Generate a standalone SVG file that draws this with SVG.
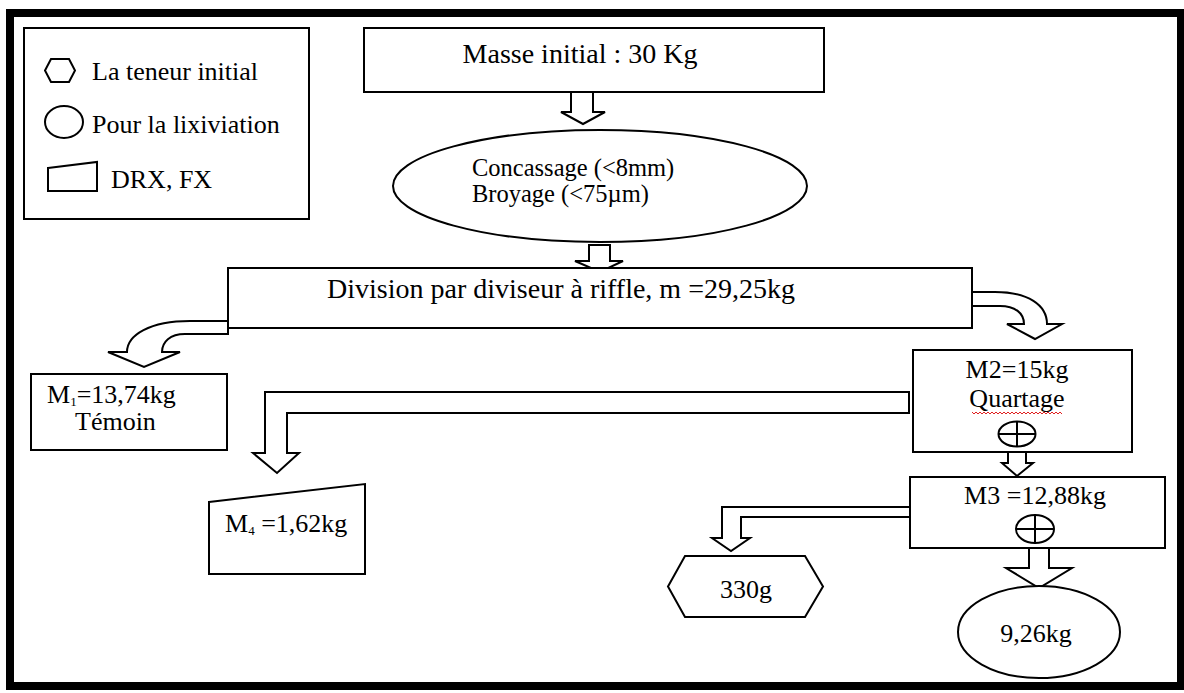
<svg xmlns="http://www.w3.org/2000/svg" width="1184" height="693" viewBox="0 0 1184 693">
<style>
.s{fill:#fff;stroke:#000;stroke-width:2}
.a{fill:#fff;stroke:#000;stroke-width:2;stroke-linejoin:miter}
.t{font-family:"Liberation Serif","Times New Roman",serif;font-size:26px;fill:#000}
.big{font-size:28px}
.sm{font-size:24.5px}
.m{text-anchor:middle}
.l{fill:none;stroke:#000;stroke-width:2}
</style>
<rect x="0" y="0" width="1184" height="693" fill="#fff"/>
<rect id="frame" x="10" y="13" width="1171" height="673" fill="none" stroke="#000" stroke-width="8"/>

<g id="legend">
  <rect class="s" x="24" y="28" width="285" height="191"/>
  <polygon class="s" points="45,70.5 51,59 69,59 75,70.5 69,82 51,82"/>
  <text class="t" x="92" y="80">La teneur initial</text>
  <ellipse class="s" cx="64" cy="122" rx="19" ry="16"/>
  <text class="t" x="92" y="133">Pour la lixiviation</text>
  <polygon class="s" points="48,168 97,162 97,191 48,191"/>
  <text class="t" x="111" y="188">DRX, FX</text>
</g>

<g id="connectors">
  <polygon class="a" points="571,92 593,92 593,112 605,112 583,124 561,112 571,112"/>
  <polygon class="a" points="589,245 610,245 610,261 623,261 600,272 575,261 589,261"/>
  <path class="a" d="M228,321 L190,321 C150,321 127,335 127,352 L108,352 L144,367 L180,352 L162,352 C162,342 170,334 185,334 L228,334 Z"/>
  <path class="a" d="M972,292 L995,292 C1028,292 1047,305 1047,324 L1062,324 L1035,339 L1007,324 L1024,324 C1024,313 1015,306 1000,306 L972,306 Z"/>
  <polygon class="a" points="909,392 265,392 265,453 253,453 277,473 299,453 287,453 287,413 909,413"/>
  <polygon class="a" points="1008,452 1026,452 1026,463 1033,463 1017,476 1002,463 1008,463"/>
  <polygon class="a" points="910,507 722,507 722,538 712,538 731,551 750,538 741,538 741,517 910,517"/>
  <polygon class="a" points="1029,548 1049,548 1049,568 1072,568 1039,588 1006,568 1029,568"/>
</g>

<g id="n-masse">
  <rect class="s" x="364" y="28" width="460" height="64"/>
  <text class="t big m" x="580" y="63">Masse initial : 30 Kg</text>
</g>

<g id="n-concassage">
  <ellipse class="s" cx="600" cy="186" rx="207" ry="56"/>
  <text class="t sm" x="472" y="176">Concassage (&lt;8mm)</text>
  <text class="t sm" x="472" y="202">Broyage (&lt;75µm)</text>
</g>

<g id="n-division">
  <rect class="s" x="228" y="268" width="744" height="60"/>
  <text class="t big m" x="561" y="298">Division par diviseur à riffle, m =29,25kg</text>
</g>

<g id="n-m1">
  <rect class="s" x="31" y="374" width="196" height="76"/>
  <text class="t" x="47" y="403">M<tspan font-size="13" dy="3">1</tspan><tspan dy="-3">=13,74kg</tspan></text>
  <text class="t" x="75" y="430">Témoin</text>
</g>

<g id="n-m2">
  <rect class="s" x="913" y="350" width="219" height="102"/>
  <text class="t m" x="1017" y="378">M2=15kg</text>
  <text class="t m" x="1017" y="407">Quartage</text>
  <path d="M972,412 l2,2 l2,-2 l2,2 l2,-2 l2,2 l2,-2 l2,2 l2,-2 l2,2 l2,-2 l2,2 l2,-2 l2,2 l2,-2 l2,2 l2,-2 l2,2 l2,-2 l2,2 l2,-2 l2,2 l2,-2 l2,2 l2,-2 l2,2 l2,-2 l2,2 l2,-2 l2,2 l2,-2 l2,2 l2,-2 l2,2 l2,-2 l2,2 l2,-2 l2,2 l2,-2 l2,2 l2,-2 l2,2 l2,-2 l2,2 l2,-2 l2,2" fill="none" stroke="#e02020" stroke-width="1"/>
  <ellipse class="s" cx="1017" cy="434" rx="18.5" ry="12.5"/>
  <path class="l" d="M998.5,434 H1035.5 M1017,421.5 V446.5"/>
</g>

<g id="n-m3">
  <rect class="s" x="910" y="477" width="255" height="71"/>
  <text class="t m" x="1035" y="504">M3 =12,88kg</text>
  <ellipse class="s" cx="1035" cy="529" rx="19" ry="14"/>
  <path class="l" d="M1016,529 H1054 M1035,515 V543"/>
</g>

<g id="n-m4">
  <polygon class="s" points="209,502 365,484 365,574 209,574"/>
  <text class="t" x="225" y="532">M<tspan font-size="13" dy="3">4</tspan><tspan dy="-3"> =1,62kg</tspan></text>
</g>

<g id="n-330g">
  <polygon class="s" points="668,586.5 685,556 805,556 823,586.5 805,617 685,617"/>
  <text class="t m" x="746" y="598">330g</text>
</g>

<g id="n-926">
  <ellipse class="s" cx="1039" cy="632" rx="81" ry="46"/>
  <text class="t m" x="1036" y="642">9,26kg</text>
</g>
</svg>
